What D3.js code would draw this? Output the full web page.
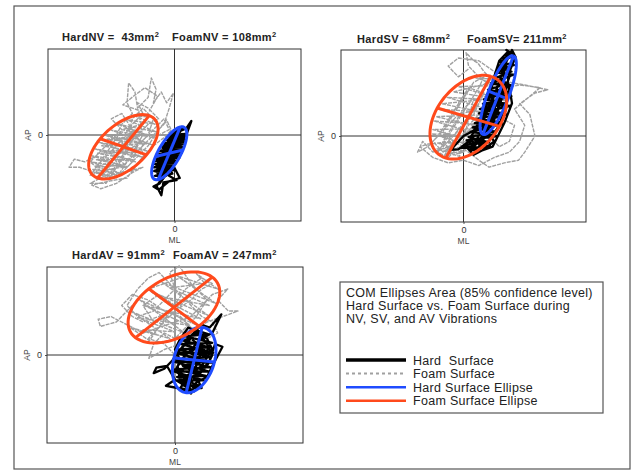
<!DOCTYPE html>
<html>
<head>
<meta charset="utf-8">
<script src="https://cdn.jsdelivr.net/npm/d3@7"></script>
<style>
  body { margin: 0; background: #fff; }
  svg { font-family: "Liberation Sans", Arial, sans-serif; }
</style>
</head>
<body>
<svg id="chart" width="634" height="470"></svg>
<script>
// ---- data (mm) ----
const conditions = ['NV', 'SV', 'AV'];
const hardArea = [43, 68, 91];
const foamArea = [108, 211, 247];
const hardLabelSep = ['  ', ' ', ' '];
const foamLabelSep = [' ', '', ' '];

// ellipse: [cx, cy, ux, uy, vx, vy] centre + two semi-axis vectors
const hardEllipse = [
  [-1.0, -3.4, 2.1, 4.9, 2.6, 0.6],
  [6.8, 7.6, 3.0, 7.3, 1.9, -0.75],
  [3.6, -0.9, 1.5, 5.95, 3.8, -0.37]
];
const foamEllipse = [
  [-9.7, -2.2, 4.9, 5.8, 4.4, -1.5],
  [0.95, 3.5, 4.4, 7.6, 6.1, -1.7],
  [-0.2, 8.65, 7.2, 5.5, 4.7, -3.4]
];

const foamTraceNV = [[-12,-3],[-10,-1],[-13,-4],[-15,-6],[-12,-5],[-9,-2],[-7,1],[-9,0],[-11,-2],[-8,2],[-6,4],[-7,6],[-5,5],[-3,3],[-5,2],[-8,-1],[-10,-4],[-12,-7],[-14,-8],[-16,-9],[-13,-9],[-11,-6],[-9,-3],[-6,-1],[-4,1],[-2,3],[-1,1],[-3,0],[-6,0],[-9,-5],[-11,-8],[-15,-7],[-18,-6],[-20,-6],[-19,-4.5],[-17,-5],[-15,-4],[-13,-2],[-11,0],[-10,2],[-8,4],[-9,6],[-8.7,9.7],[-7.5,8],[-7,5],[-5,7],[-4.4,10.6],[-3.5,8.5],[-4,6],[-2.5,8],[-1.5,6],[-0.2,7.8],[-1,5],[-2,2],[-4,0],[-7,-3],[-10,-6],[-13,-6.5],[-16,-7.5],[-14,-5],[-12,-2],[-10,1],[-12,3],[-10,4],[-8,1],[-6,-2],[-8,-4],[-10,-3],[-14,-3],[-16,-5],[-13,-7.5],[-10,-7],[-8,-5],[-7,-2],[-5,0],[-4,3],[-6,5],[-8,3],[-9,-1],[-11,-4],[-9,-6],[-7,-4],[-5,-2],[-3,1],[-1.5,2.8],[-0.6,0.9],[-2,-0.5],[-4,-2],[-6,-4],[-9,-8],[-12,-8.5],[-15.7,-9.3],[-14,-10],[-11,-9],[-8,-7],[-6,-6],
  [-13.0,-7.9],[-15.5,-6.4],[-10.6,-7.0],[-15.8,-5.0],[-8.9,-6.1],[-15.6,-3.9],[-7.4,-5.0],[-15.0,-2.6],[-6.1,-4.1],[-14.2,-1.4],[-5.1,-3.0],[-13.3,0.0],[-4.3,-1.8],[-12.0,0.9],[-3.8,-0.5],[-10.8,2.0],[-3.5,0.6],[-9.2,2.9],[-3.7,2.0],[-7.4,3.5],[-5.0,3.4],
  [-6.0,2.0],[-10.0,1.0],[-4.6,0.0],[-12.8,-0.8],[-5.4,-1.6],[-13.8,-2.0],[-6.6,-3.2],[-14.6,-3.4],[-8.0,-4.6],[-14.8,-4.6],[-9.6,-5.6],[-14.4,-6.0],[-11.6,-7.2],[-13.6,-6.8],[-11.0,-5.0],[-12.4,-3.0],[-8.6,-2.6],[-10.8,-0.8],[-7.0,-0.6],[-9.0,1.2],[-6.2,0.6],[-6.8,4.6],[-9.8,5.6],[-7.8,7.2],[-5.6,8.8],[-3.2,7.2],[-4.8,4.4]];
const hardTraceNV = [[-1,-3.4],[0.9,-2.6],[-2.8,-4.2],[0.6,-1.5],[-1.9,-1.8],[1.6,-0.5],[-0.3,0.4],[1.3,1.0],[0.2,-0.8],[-1.5,-2.5],[1.2,-3.6],[-2.4,-5.0],[0.2,-5.0],[-3.4,-6.5],[-0.9,-6.2],[-3.0,-8.0],[-1.6,-7.0],[-3.4,-9.5],[-2.5,-11.2],[-2.1,-8.8],[0.4,-8.4],[-1.2,-7.5],[-0.3,-4.2],[-3.0,-5.6],[-0.8,-2.2],[1.8,-1.2],[3.2,2.6],[2.2,1.2],[0.0,0.8],[-1.2,-1.0],[1.0,-2.0],[-2.2,-3.2],[-0.5,-3.0],[-3.6,-6.8],[-1.4,-5.6],[0.0,-6.6],[-2.2,-6.0],[-2.6,-7.6],[-0.4,-7.2],[-1.8,-4.4],[0.4,-3.4],[-1.0,-1.6],[1.4,0.2],[0.6,-0.2],[-0.6,-2.6],[-2.0,-4.8],[-3.2,-5.0],[-1.2,-6.8],[-2.8,-9.0],[-4.0,-9.6],[-3.0,-10.2],[-1.0,-8.6],[1.0,-8.0],[-0.6,-5.0],[1.4,-2.6],[0.2,-1.8],[-1.6,-3.6],[-2.6,-4.0],
  [-0.1,0.8],[1.9,1.1],[-0.8,0.0],[2.1,0.2],[-1.6,-1.0],[2.0,-0.8],[-2.4,-2.0],[1.7,-1.7],[-2.9,-3.0],[1.4,-2.7],[-3.3,-4.0],[0.9,-3.7],[-3.6,-4.9],[0.4,-4.8],[-3.9,-6.0],[-0.2,-5.7],[-3.9,-6.7],[-1.0,-6.8],[-3.7,-7.6],[-1.6,-7.6],[-3.0,-8.3],
  [-2.2,-8.0],[-3.3,-7.0],[-0.6,-6.3],[-3.7,-5.4],[0.2,-5.3],[-3.4,-4.5],[0.9,-4.3],[-2.9,-3.5],[1.4,-3.3],[-2.3,-2.4],[1.8,-2.3],[-1.8,-1.5],[2.0,-1.3],[-1.1,-0.4],[2.2,-0.4],[-0.4,0.4],[1.5,1.4],[0.6,0.9],
  [1.0,-0.2],[-1.2,-1.2],[0.4,-2.0],[-2.0,-2.6],[0.0,-3.0],[-2.6,-3.8],[-0.4,-4.2],[-2.8,-5.2],[-1.0,-5.0],[-2.4,-6.4],[-1.4,-6.0],[-2.6,-7.2],[-2.0,-6.8],[-1.2,-4.4],[-0.8,-3.6],[-1.6,-2.2],[0.2,-1.2],[-0.4,-0.6]];

const foamTraceSV = [[0,2],[3,6],[-2,0],[-4,-2],[-1,1],[2,4],[4,8],[1,9],[-1,6],[-3,3],[-5,0],[-7,-2],[-9,-3],[-8,-1],[-6,-3],[-3,-2],[0,0],[2,2],[5,5],[6,9],[3,11],[1,13],[0.5,15.5],[2,14],[2.8,13.6],[4,12],[6,10],[9,10],[12,9.5],[16.5,8.6],[14,8],[11,6],[13,4],[14,0],[12,-3],[10.8,-4.5],[8,-5],[5,-5.8],[3,-4.5],[1,-3],[-1,-2],[-3,-4],[-5,-3],[-3,0],[-1,3],[1,6],[3,9],[4,11],[2,10],[0,7],[-2,4],[-4,1],[-2,-1],[0,-2],[3,1],[6,3],[8,5],[7,7],[5,6],[3,4],[1,2],[-1,-1],[-4,-3],[-6,-1],[-3,2],[-1,4],[1,4.5],[3,2],[5,0],[7,-2],[9,-1],[10,2],[8,3],[6,6],[4,4],[2,0],[0,-3],[-2,-3.5],[-4,-1],[-2,2],[0,5],[2,7],
  [-0.8,-3.8],[-5.2,-2.4],[2.8,-2.2],[-6.2,0.4],[5.0,-0.2],[-5.8,2.8],[6.6,1.9],[-4.8,5.0],[7.6,4.2],[-3.2,7.2],[8.0,6.6],[-1.0,9.2],[7.2,9.4],[2.4,10.8],[5.6,10.6],
  [4.0,9.6],[-2.0,8.2],[6.2,7.0],[-4.2,6.0],[5.8,4.0],[-5.4,3.6],[4.6,1.4],[-6.0,1.2],[2.0,-1.0],[-4.8,-1.4],[0.0,-2.8],[-3.6,-3.4],
  [-2,-1],[-7,-1.5],[-8.5,-2],[-6,-4],[-3,-5],[0,-4.5],[3,-5.5],[6,-4],[9,-3],[11,-1],[12,2],[10,5],[12.5,7],[15,9],[11,9.5],[8,9],[6,12],[3,14],[-1,14.5],[-3,13],[-1,11],[1,12.5]];
const hardTraceSV = [[4,3],[6,8],[5,5],[7,10],[8,13],[9.5,16],[10.2,14.7],[9,12],[8.5,9],[7,6],[6,3],[4,0],[3,-2],[5,-1],[7,2],[8,5],[9,9],[9.5,6.1],[8,2.4],[5.7,-2],[2.7,-3],[1,-1],[-1,-2.5],[-2.5,-2.6],[0,0],[2,1],[4,4],[5,7],[6,11],[7,14],[8.5,15.5],[8,12],[7.5,8],[6,5],[5,2],[3.5,-0.5],[2,-2],[4.5,1],[6.5,4],[7.5,7],[9,11],[8,14.5],[6.5,12],[5.5,9],[4.5,6],[3,2],[1.5,0],[3,-1.5],[5,0.5],[6,-1],[4,-2.5],[2,-3.5],[0.5,-2],
  [-0.4,-2.2],[5.4,-2.0],[0.6,-0.8],[6.6,0.0],[1.4,0.8],[7.6,2.2],[2.2,2.4],[8.6,4.0],[3.0,4.2],[9.2,5.6],[3.8,6.0],[9.4,7.4],[4.6,7.8],[9.6,9.4],[5.4,9.8],[9.8,11.4],[6.4,11.8],[9.9,13.2],[7.2,13.8],[10.0,15.0],[8.4,16.0],
  [9.0,15.6],[7.0,12.8],[9.4,12.0],[5.8,10.6],[8.8,9.8],[4.8,8.6],[8.6,8.2],[4.0,6.8],[8.2,6.0],[3.2,5.0],[7.8,4.2],[2.6,3.2],[7.0,2.6],[1.8,1.6],[6.2,0.8],[1.0,-0.2],[5.0,-1.2],[0.2,-1.6],[3.4,-2.8],[1.4,-2.6],
  [2.6,-0.6],[4.6,3.0],[6.0,2.0],[5.2,5.6],[7.2,7.0],[6.4,9.0],[8.0,10.6],[7.4,12.4],[8.6,14.2]];

const foamTraceAV = [[0,9],[-3,11],[-6,9],[-4,6],[-1,7],[2,10],[4,12],[1,14],[-2,13],[-5,12],[-7,10],[-9,8],[-11,6],[-14,5.2],[-14.4,6.5],[-12,7],[-10,6],[-8,5],[-6,4],[-3,5],[0,6],[3,7],[5,9],[7,11],[9.9,12],[8,10],[10,8],[11.8,8],[9,7],[6,6],[3,4],[1,2],[-2,1],[-4.9,-0.6],[-4,2],[-2,4],[0,3],[2,5],[4,7],[6,10],[3,13],[0.8,16.2],[-1,15],[0,12],[-2,10],[-4,8],[-7,7],[-9,9],[-7,12],[-5,14],[-3,15],[-1,13],[1,11],[3,9],[5,7],[7,6],[8,4],[6,3],[4,4],[2,6],[-1,8],[-3,7],[-6,6],[-8,7],[-10,9],[-8,11],[-5,10],[-2,8],[1,7],[3,5],[5,4],[4,2],[2,1],[0,0],[-2,2],[-5,3],[-3,5],[0,8],[3,10],[5,12],[7,13],[5,14],[2,12],
  [-4.8,2.6],[-8.4,5.0],[-1.0,3.0],[-8.0,7.8],[1.8,4.0],[-6.6,10.0],[4.2,5.4],[-4.6,11.6],[6.2,7.2],[-2.4,13.2],[7.6,9.4],[0.4,14.4],[8.0,12.0],[4.0,14.8],
  [5.6,13.0],[-1.0,12.2],[6.4,9.0],[-3.6,10.8],[4.8,6.6],[-5.8,9.0],[2.6,5.4],[-7.0,6.8],[0.0,4.2],[-6.0,4.6],[-3.0,3.6]];
const hardTraceAV = [[3.6,-1],[6,0],[2,2],[0,0],[4,4],[6,3],[7,1],[5,-2],[2,-4],[0,-3],[1,-1],[3,1],[5,3],[7,4],[8.7,7.4],[6.5,5],[5,5.5],[3,3.5],[1,1],[-0.5,-1],[-2,-2.5],[-4,-3.3],[-3.5,-2.3],[-1.5,-2],[0,-4.5],[-1.7,-5.6],[0.5,-6],[2,-6.5],[3,-7],[4,-5],[6,-4],[7,-2],[8.9,1.5],[7.5,2],[6.5,-1],[5,-3],[3,-5],[1,-5],[0.5,-2],[2,0],[4,2],[5.5,1],[4,-1],[2.5,-2.5],[4.5,-3.5],[6,-2],[7,0],[6,2],[4.5,4],[2.5,5],[1,3],[0,1],[1.5,-2],[3.5,-3],[5,-6],[3.5,-6],[2,-4.5],[1,-3],[3,-1.5],[5,-0.5],[6.5,1.5],
  [1.0,-6.0],[3.6,-6.6],[0.2,-4.6],[5.4,-4.6],[-0.2,-3.0],[6.4,-3.0],[-0.2,-1.2],[7.0,-1.4],[0.2,0.4],[7.2,0.4],[1.0,2.0],[7.0,2.2],[2.0,3.4],[6.2,3.8],[3.6,4.6],
  [4.8,4.0],[1.6,2.6],[6.4,1.4],[0.6,1.0],[6.8,-0.4],[0.2,-0.8],[6.6,-2.2],[0.0,-2.6],[5.8,-3.8],[0.4,-4.0],[4.6,-5.6],[1.4,-5.4],[2.8,-6.2],
  [2.6,-4.6],[4.2,-3.2],[2.0,-1.8],[5.2,-1.0],[2.8,0.4],[4.6,1.8],[3.2,2.8]];

const foamTraces = [foamTraceNV, foamTraceSV, foamTraceAV];
const hardTraces = [hardTraceNV, hardTraceSV, hardTraceAV];

const mlDomain = [-24, 24];
const apDomain = [-16, 16];

const legendNote = ['COM Ellipses Area (85% confidence level)', 'Hard Surface vs. Foam Surface during', 'NV, SV, and AV Vibrations'];
const legendLabels = ['Hard  Surface', 'Foam Surface', 'Hard Surface Ellipse', 'Foam Surface Ellipse'];

const hardColor = '#000000';
const foamColor = '#a0a0a0';
const hardEllColor = '#1f4cff';
const foamEllColor = '#ff4a1c';

const svg = d3.select('#chart');

// outer frame
svg.append('rect')
  .attr('x', 14).attr('y', 6)
  .attr('width', 616).attr('height', 463)
  .attr('fill', 'none').attr('stroke', '#555').attr('stroke-width', 1.2);

class CopPanel {
  constructor(_config, i) {
    this.config = _config;
    this.i = i;
    this.initVis();
  }

  initVis() {
    let vis = this;
    const c = vis.config;
    vis.xScale = d3.scaleLinear().domain(mlDomain).range([0, c.width]);
    vis.yScale = d3.scaleLinear().domain(apDomain).range([c.height, 0]);

    vis.chart = svg.append('g')
      .attr('transform', `translate(${c.left},${c.top})`);

    // title with superscripts
    vis.addTitle(c.hardX - c.left, `Hard${conditions[vis.i]} =${hardLabelSep[vis.i]}${hardArea[vis.i]}mm`);
    vis.addTitle(c.foamX - c.left, `Foam${conditions[vis.i]}${foamLabelSep[vis.i]}= ${foamArea[vis.i]}mm`);

    // axes
    vis.xAxisG = vis.chart.append('g')
      .attr('transform', `translate(0,${c.height})`)
      .call(d3.axisBottom(vis.xScale).tickValues([0]).tickSize(2).tickPadding(3))
      .call(g => g.select('.domain').remove());
    vis.yAxisG = vis.chart.append('g')
      .call(d3.axisLeft(vis.yScale).tickValues([0]).tickSize(2).tickPadding(3))
      .call(g => g.select('.domain').remove());
    vis.chart.selectAll('.tick text').attr('font-size', 9).attr('fill', '#333')
      .attr('font-family', '"Liberation Sans", Arial, sans-serif');
    vis.chart.selectAll('.tick line').attr('stroke', '#555');

    vis.chart.append('text')
      .attr('x', vis.xScale(0)).attr('y', c.height + 22)
      .attr('text-anchor', 'middle').attr('font-size', 8.5).attr('fill', '#444')
      .text('ML');
    vis.chart.append('text')
      .attr('transform', `translate(-17,${vis.yScale(0)}) rotate(-90)`)
      .attr('text-anchor', 'middle').attr('font-size', 8.5).attr('fill', '#444')
      .text('AP');

    vis.renderVis();
  }

  addTitle(x, str) {
    let vis = this;
    const t = vis.chart.append('text')
      .attr('x', x).attr('y', vis.config.titleY - vis.config.top)
      .attr('font-size', 11).attr('font-weight', 'bold').attr('fill', '#222')
      .attr('letter-spacing', 0.35)
      .style('white-space', 'pre');
    t.append('tspan').text(str);
    t.append('tspan').attr('dy', -4).attr('font-size', 7.5).text('2');
  }

  ellipsePoints(e) {
    return d3.range(0, 73).map(k => {
      const t = k / 72 * 2 * Math.PI;
      return [e[0] + Math.cos(t) * e[2] + Math.sin(t) * e[4],
              e[1] + Math.cos(t) * e[3] + Math.sin(t) * e[5]];
    });
  }

  renderVis() {
    let vis = this;
    const c = vis.config;
    const line = d3.line().x(d => vis.xScale(d[0])).y(d => vis.yScale(d[1]));

    // box + cross-hair
    vis.chart.append('rect')
      .attr('width', c.width).attr('height', c.height)
      .attr('fill', 'none').attr('stroke', '#333').attr('stroke-width', 1);
    vis.chart.append('line')
      .attr('x1', vis.xScale(0)).attr('x2', vis.xScale(0))
      .attr('y1', 0).attr('y2', c.height)
      .attr('stroke', '#333').attr('stroke-width', 1);
    vis.chart.append('line')
      .attr('x1', 0).attr('x2', c.width)
      .attr('y1', vis.yScale(0)).attr('y2', vis.yScale(0))
      .attr('stroke', '#333').attr('stroke-width', 1);

    vis.chart.append('path')
      .attr('d', line(foamTraces[vis.i]))
      .attr('fill', 'none').attr('stroke', foamColor)
      .attr('stroke-width', 1.4).attr('stroke-dasharray', '4,1')
      .attr('stroke-linejoin', 'round');
    vis.chart.append('path')
      .attr('d', line(hardTraces[vis.i]))
      .attr('fill', 'none').attr('stroke', hardColor)
      .attr('stroke-width', 2.3).attr('stroke-linejoin', 'round');

    [[hardEllipse[vis.i], hardEllColor], [foamEllipse[vis.i], foamEllColor]].forEach(([e, col]) => {
      vis.chart.append('path')
        .attr('d', line(vis.ellipsePoints(e)))
        .attr('fill', 'none').attr('stroke', col).attr('stroke-width', 3);
      vis.chart.append('path')
        .attr('d', line([[e[0] - e[2], e[1] - e[3]], [e[0] + e[2], e[1] + e[3]]]))
        .attr('stroke', col).attr('stroke-width', 3);
      vis.chart.append('path')
        .attr('d', line([[e[0] - e[4], e[1] - e[5]], [e[0] + e[4], e[1] + e[5]]]))
        .attr('stroke', col).attr('stroke-width', 3);
    });
  }
}

const panelConfigs = [
  { left: 48, top: 49, width: 253, height: 172, titleY: 41, hardX: 62, foamX: 172 },
  { left: 341, top: 50, width: 245, height: 172, titleY: 43, hardX: 357, foamX: 467 },
  { left: 47, top: 267, width: 256, height: 176, titleY: 259, hardX: 72, foamX: 173 }
];
panelConfigs.forEach((cfg, i) => new CopPanel(cfg, i));

// legend box
const legend = svg.append('g').attr('transform', 'translate(340,282)');
legend.append('rect')
  .attr('width', 263).attr('height', 131)
  .attr('fill', '#fff').attr('stroke', '#555').attr('stroke-width', 1.2);
legend.selectAll('.note')
  .data(legendNote)
  .join('text')
  .attr('class', 'note')
  .attr('x', 6).attr('y', (d, i) => 15 + i * 13)
  .attr('font-size', 12.5).attr('letter-spacing', 0.3).attr('fill', '#222')
  .text(d => d);

const legendStyles = [
  { stroke: hardColor, width: 3.5, dash: null },
  { stroke: foamColor, width: 2, dash: '3,3' },
  { stroke: hardEllColor, width: 2.5, dash: null },
  { stroke: foamEllColor, width: 2.5, dash: null }
];
const item = legend.selectAll('.item')
  .data(legendLabels)
  .join('g')
  .attr('class', 'item')
  .attr('transform', (d, i) => `translate(0,${78 + i * 13.6})`);
item.append('line')
  .attr('x1', 6).attr('x2', 66)
  .attr('stroke', (d, i) => legendStyles[i].stroke)
  .attr('stroke-width', (d, i) => legendStyles[i].width)
  .attr('stroke-dasharray', (d, i) => legendStyles[i].dash);
item.append('text')
  .attr('x', 73).attr('y', 4.5)
  .attr('font-size', 12.5).attr('letter-spacing', 0.3).attr('fill', '#222')
  .style('white-space', 'pre')
  .text(d => d);
</script>
</body>
</html>
